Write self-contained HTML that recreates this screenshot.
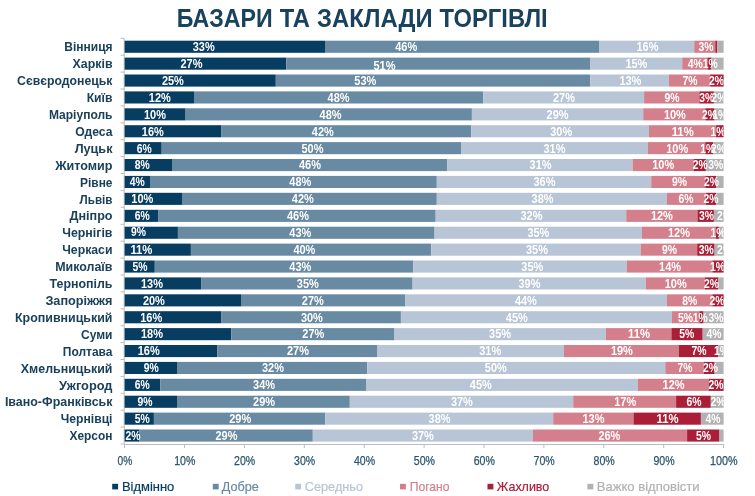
<!DOCTYPE html>
<html lang="uk"><head><meta charset="utf-8"><title>Базари та заклади торгівлі</title>
<style>
html,body{margin:0;padding:0;background:#fff;}
body{width:755px;height:496px;overflow:hidden;font-family:"Liberation Sans",sans-serif;}
svg{display:block;font-family:"Liberation Sans",sans-serif;}
.t{font-weight:bold;font-size:26px;fill:#19425e;}
.c{font-weight:bold;font-size:11.9px;fill:#1b405a;text-anchor:end;}
.v{font-weight:bold;font-size:12.0px;fill:#fff;text-anchor:middle;}
.a{font-size:12.4px;fill:#2a556f;stroke:#2a556f;stroke-width:0.25px;text-anchor:middle;}
.l{font-size:13.4px;stroke-width:0.2px;}
</style></head><body>
<svg width="755" height="496" viewBox="0 0 755 496">
<rect width="755" height="496" fill="#fff"/>
<defs><clipPath id="cp"><rect x="124.1" y="36" width="599.5" height="412"/></clipPath></defs>
<text class="t" y="27.2"><tspan x="176.8" textLength="95.9" lengthAdjust="spacingAndGlyphs">БАЗАРИ</tspan> <tspan x="279.7" textLength="30.2" lengthAdjust="spacingAndGlyphs">ТА</tspan> <tspan x="317.0" textLength="115.6" lengthAdjust="spacingAndGlyphs">ЗАКЛАДИ</tspan> <tspan x="439.6" textLength="108.1" lengthAdjust="spacingAndGlyphs">ТОРГІВЛІ</tspan></text>
<g stroke="#b9bdc3" stroke-width="1" fill="none">
<path d="M124.2 38.3V444.5"/>
<path d="M124.2 444.5H724.2"/>
<path d="M120.6 38.3H124.2"/>
<path d="M120.6 55.2H124.2"/>
<path d="M120.6 72.1H124.2"/>
<path d="M120.6 89.0H124.2"/>
<path d="M120.6 105.9H124.2"/>
<path d="M120.6 122.8H124.2"/>
<path d="M120.6 139.7H124.2"/>
<path d="M120.6 156.6H124.2"/>
<path d="M120.6 173.5H124.2"/>
<path d="M120.6 190.4H124.2"/>
<path d="M120.6 207.3H124.2"/>
<path d="M120.6 224.3H124.2"/>
<path d="M120.6 241.2H124.2"/>
<path d="M120.6 258.1H124.2"/>
<path d="M120.6 275.0H124.2"/>
<path d="M120.6 291.9H124.2"/>
<path d="M120.6 308.8H124.2"/>
<path d="M120.6 325.7H124.2"/>
<path d="M120.6 342.6H124.2"/>
<path d="M120.6 359.5H124.2"/>
<path d="M120.6 376.4H124.2"/>
<path d="M120.6 393.3H124.2"/>
<path d="M120.6 410.2H124.2"/>
<path d="M120.6 427.1H124.2"/>
<path d="M120.6 444.0H124.2"/>
<path d="M124.6 444.5V448.0"/>
<path d="M184.5 444.5V448.0"/>
<path d="M244.4 444.5V448.0"/>
<path d="M304.3 444.5V448.0"/>
<path d="M364.2 444.5V448.0"/>
<path d="M424.1 444.5V448.0"/>
<path d="M484.0 444.5V448.0"/>
<path d="M543.9 444.5V448.0"/>
<path d="M603.8 444.5V448.0"/>
<path d="M663.7 444.5V448.0"/>
<path d="M723.6 444.5V448.0"/>
</g>
<g>
<rect x="124.6" y="40.7" width="200.4" height="12.1" fill="#083d62"/>
<rect x="325.0" y="40.7" width="274.0" height="12.1" fill="#688aa3"/>
<rect x="599.0" y="40.7" width="95.2" height="12.1" fill="#b8c5d6"/>
<rect x="694.2" y="40.7" width="21.1" height="12.1" fill="#d4808c"/>
<rect x="715.3" y="40.7" width="1.9" height="12.1" fill="#aa1f37"/>
<rect x="717.2" y="40.7" width="6.4" height="12.1" fill="#b2b2b4"/>
<rect x="124.6" y="57.6" width="161.7" height="12.1" fill="#083d62"/>
<rect x="286.3" y="57.6" width="304.2" height="12.1" fill="#688aa3"/>
<rect x="590.5" y="57.6" width="91.7" height="12.1" fill="#b8c5d6"/>
<rect x="682.2" y="57.6" width="25.3" height="12.1" fill="#d4808c"/>
<rect x="707.5" y="57.6" width="4.0" height="12.1" fill="#aa1f37"/>
<rect x="711.5" y="57.6" width="12.1" height="12.1" fill="#b2b2b4"/>
<rect x="124.6" y="74.5" width="151.2" height="12.1" fill="#083d62"/>
<rect x="275.8" y="74.5" width="314.3" height="12.1" fill="#688aa3"/>
<rect x="590.1" y="74.5" width="78.7" height="12.1" fill="#b8c5d6"/>
<rect x="668.8" y="74.5" width="41.4" height="12.1" fill="#d4808c"/>
<rect x="710.2" y="74.5" width="13.4" height="12.1" fill="#aa1f37"/>
<rect x="124.6" y="91.4" width="69.4" height="12.1" fill="#083d62"/>
<rect x="194.0" y="91.4" width="289.3" height="12.1" fill="#688aa3"/>
<rect x="483.3" y="91.4" width="160.8" height="12.1" fill="#b8c5d6"/>
<rect x="644.1" y="91.4" width="55.3" height="12.1" fill="#d4808c"/>
<rect x="699.4" y="91.4" width="14.5" height="12.1" fill="#aa1f37"/>
<rect x="713.9" y="91.4" width="9.7" height="12.1" fill="#b2b2b4"/>
<rect x="124.6" y="108.3" width="61.0" height="12.1" fill="#083d62"/>
<rect x="185.6" y="108.3" width="286.3" height="12.1" fill="#688aa3"/>
<rect x="471.9" y="108.3" width="171.3" height="12.1" fill="#b8c5d6"/>
<rect x="643.2" y="108.3" width="62.1" height="12.1" fill="#d4808c"/>
<rect x="705.3" y="108.3" width="9.3" height="12.1" fill="#aa1f37"/>
<rect x="714.6" y="108.3" width="9.0" height="12.1" fill="#b2b2b4"/>
<rect x="124.6" y="125.2" width="96.9" height="12.1" fill="#083d62"/>
<rect x="221.5" y="125.2" width="249.8" height="12.1" fill="#688aa3"/>
<rect x="471.3" y="125.2" width="177.7" height="12.1" fill="#b8c5d6"/>
<rect x="649.0" y="125.2" width="67.1" height="12.1" fill="#d4808c"/>
<rect x="716.1" y="125.2" width="7.5" height="12.1" fill="#aa1f37"/>
<rect x="124.6" y="142.1" width="37.1" height="12.1" fill="#083d62"/>
<rect x="161.7" y="142.1" width="299.3" height="12.1" fill="#688aa3"/>
<rect x="461.0" y="142.1" width="186.9" height="12.1" fill="#b8c5d6"/>
<rect x="647.9" y="142.1" width="57.4" height="12.1" fill="#d4808c"/>
<rect x="705.3" y="142.1" width="8.0" height="12.1" fill="#aa1f37"/>
<rect x="713.3" y="142.1" width="10.3" height="12.1" fill="#b2b2b4"/>
<rect x="124.6" y="159.0" width="47.4" height="12.1" fill="#083d62"/>
<rect x="172.0" y="159.0" width="275.4" height="12.1" fill="#688aa3"/>
<rect x="447.4" y="159.0" width="185.2" height="12.1" fill="#b8c5d6"/>
<rect x="632.6" y="159.0" width="61.2" height="12.1" fill="#d4808c"/>
<rect x="693.8" y="159.0" width="12.1" height="12.1" fill="#aa1f37"/>
<rect x="705.9" y="159.0" width="17.7" height="12.1" fill="#b2b2b4"/>
<rect x="124.6" y="175.9" width="26.0" height="12.1" fill="#083d62"/>
<rect x="150.6" y="175.9" width="286.2" height="12.1" fill="#688aa3"/>
<rect x="436.8" y="175.9" width="214.4" height="12.1" fill="#b8c5d6"/>
<rect x="651.2" y="175.9" width="54.1" height="12.1" fill="#d4808c"/>
<rect x="705.3" y="175.9" width="10.8" height="12.1" fill="#aa1f37"/>
<rect x="716.1" y="175.9" width="7.5" height="12.1" fill="#b2b2b4"/>
<rect x="124.6" y="192.8" width="58.0" height="12.1" fill="#083d62"/>
<rect x="182.6" y="192.8" width="254.2" height="12.1" fill="#688aa3"/>
<rect x="436.8" y="192.8" width="230.2" height="12.1" fill="#b8c5d6"/>
<rect x="667.0" y="192.8" width="38.9" height="12.1" fill="#d4808c"/>
<rect x="705.9" y="192.8" width="10.2" height="12.1" fill="#aa1f37"/>
<rect x="716.1" y="192.8" width="7.5" height="12.1" fill="#b2b2b4"/>
<rect x="124.6" y="209.8" width="33.5" height="12.1" fill="#083d62"/>
<rect x="158.1" y="209.8" width="277.6" height="12.1" fill="#688aa3"/>
<rect x="435.7" y="209.8" width="190.5" height="12.1" fill="#b8c5d6"/>
<rect x="626.2" y="209.8" width="71.3" height="12.1" fill="#d4808c"/>
<rect x="697.5" y="209.8" width="16.4" height="12.1" fill="#aa1f37"/>
<rect x="713.9" y="209.8" width="9.7" height="12.1" fill="#b2b2b4"/>
<rect x="124.6" y="226.7" width="53.3" height="12.1" fill="#083d62"/>
<rect x="177.9" y="226.7" width="256.7" height="12.1" fill="#688aa3"/>
<rect x="434.6" y="226.7" width="207.3" height="12.1" fill="#b8c5d6"/>
<rect x="641.9" y="226.7" width="73.8" height="12.1" fill="#d4808c"/>
<rect x="715.7" y="226.7" width="3.2" height="12.1" fill="#aa1f37"/>
<rect x="718.9" y="226.7" width="4.7" height="12.1" fill="#b2b2b4"/>
<rect x="124.6" y="243.6" width="66.3" height="12.1" fill="#083d62"/>
<rect x="190.9" y="243.6" width="240.4" height="12.1" fill="#688aa3"/>
<rect x="431.3" y="243.6" width="209.3" height="12.1" fill="#b8c5d6"/>
<rect x="640.6" y="243.6" width="56.6" height="12.1" fill="#d4808c"/>
<rect x="697.2" y="243.6" width="17.4" height="12.1" fill="#aa1f37"/>
<rect x="714.6" y="243.6" width="9.0" height="12.1" fill="#b2b2b4"/>
<rect x="124.6" y="260.5" width="30.2" height="12.1" fill="#083d62"/>
<rect x="154.8" y="260.5" width="258.4" height="12.1" fill="#688aa3"/>
<rect x="413.2" y="260.5" width="213.6" height="12.1" fill="#b8c5d6"/>
<rect x="626.8" y="260.5" width="85.6" height="12.1" fill="#d4808c"/>
<rect x="712.4" y="260.5" width="11.2" height="12.1" fill="#aa1f37"/>
<rect x="124.6" y="277.4" width="76.9" height="12.1" fill="#083d62"/>
<rect x="201.5" y="277.4" width="211.1" height="12.1" fill="#688aa3"/>
<rect x="412.6" y="277.4" width="233.2" height="12.1" fill="#b8c5d6"/>
<rect x="645.8" y="277.4" width="59.2" height="12.1" fill="#d4808c"/>
<rect x="705.0" y="277.4" width="13.3" height="12.1" fill="#aa1f37"/>
<rect x="718.3" y="277.4" width="5.3" height="12.1" fill="#b2b2b4"/>
<rect x="124.6" y="294.3" width="116.4" height="12.1" fill="#083d62"/>
<rect x="241.0" y="294.3" width="164.4" height="12.1" fill="#688aa3"/>
<rect x="405.4" y="294.3" width="261.6" height="12.1" fill="#b8c5d6"/>
<rect x="667.0" y="294.3" width="45.4" height="12.1" fill="#d4808c"/>
<rect x="712.4" y="294.3" width="11.2" height="12.1" fill="#aa1f37"/>
<rect x="124.6" y="311.2" width="96.9" height="12.1" fill="#083d62"/>
<rect x="221.5" y="311.2" width="179.4" height="12.1" fill="#688aa3"/>
<rect x="400.9" y="311.2" width="271.1" height="12.1" fill="#b8c5d6"/>
<rect x="672.0" y="311.2" width="27.4" height="12.1" fill="#d4808c"/>
<rect x="699.4" y="311.2" width="4.1" height="12.1" fill="#aa1f37"/>
<rect x="703.5" y="311.2" width="20.1" height="12.1" fill="#b2b2b4"/>
<rect x="124.6" y="328.1" width="106.7" height="12.1" fill="#083d62"/>
<rect x="231.3" y="328.1" width="163.2" height="12.1" fill="#688aa3"/>
<rect x="394.5" y="328.1" width="211.3" height="12.1" fill="#b8c5d6"/>
<rect x="605.8" y="328.1" width="65.6" height="12.1" fill="#d4808c"/>
<rect x="671.4" y="328.1" width="31.3" height="12.1" fill="#aa1f37"/>
<rect x="702.7" y="328.1" width="20.9" height="12.1" fill="#b2b2b4"/>
<rect x="124.6" y="345.0" width="92.8" height="12.1" fill="#083d62"/>
<rect x="217.4" y="345.0" width="159.6" height="12.1" fill="#688aa3"/>
<rect x="377.0" y="345.0" width="187.0" height="12.1" fill="#b8c5d6"/>
<rect x="564.0" y="345.0" width="115.0" height="12.1" fill="#d4808c"/>
<rect x="679.0" y="345.0" width="39.3" height="12.1" fill="#aa1f37"/>
<rect x="718.3" y="345.0" width="5.3" height="12.1" fill="#b2b2b4"/>
<rect x="124.6" y="361.9" width="52.4" height="12.1" fill="#083d62"/>
<rect x="177.0" y="361.9" width="190.3" height="12.1" fill="#688aa3"/>
<rect x="367.3" y="361.9" width="298.0" height="12.1" fill="#b8c5d6"/>
<rect x="665.3" y="361.9" width="38.7" height="12.1" fill="#d4808c"/>
<rect x="704.0" y="361.9" width="10.6" height="12.1" fill="#aa1f37"/>
<rect x="714.6" y="361.9" width="9.0" height="12.1" fill="#b2b2b4"/>
<rect x="124.6" y="378.8" width="35.7" height="12.1" fill="#083d62"/>
<rect x="160.3" y="378.8" width="206.2" height="12.1" fill="#688aa3"/>
<rect x="366.5" y="378.8" width="271.4" height="12.1" fill="#b8c5d6"/>
<rect x="637.9" y="378.8" width="70.8" height="12.1" fill="#d4808c"/>
<rect x="708.7" y="378.8" width="14.9" height="12.1" fill="#aa1f37"/>
<rect x="124.6" y="395.7" width="52.4" height="12.1" fill="#083d62"/>
<rect x="177.0" y="395.7" width="172.8" height="12.1" fill="#688aa3"/>
<rect x="349.8" y="395.7" width="223.4" height="12.1" fill="#b8c5d6"/>
<rect x="573.2" y="395.7" width="102.9" height="12.1" fill="#d4808c"/>
<rect x="676.1" y="395.7" width="34.7" height="12.1" fill="#aa1f37"/>
<rect x="710.8" y="395.7" width="12.8" height="12.1" fill="#b2b2b4"/>
<rect x="124.6" y="412.6" width="29.3" height="12.1" fill="#083d62"/>
<rect x="153.9" y="412.6" width="171.3" height="12.1" fill="#688aa3"/>
<rect x="325.2" y="412.6" width="228.0" height="12.1" fill="#b8c5d6"/>
<rect x="553.2" y="412.6" width="80.3" height="12.1" fill="#d4808c"/>
<rect x="633.5" y="412.6" width="67.4" height="12.1" fill="#aa1f37"/>
<rect x="700.9" y="412.6" width="22.7" height="12.1" fill="#b2b2b4"/>
<rect x="124.6" y="429.5" width="14.9" height="12.1" fill="#083d62"/>
<rect x="139.5" y="429.5" width="173.3" height="12.1" fill="#688aa3"/>
<rect x="312.8" y="429.5" width="220.1" height="12.1" fill="#b8c5d6"/>
<rect x="532.9" y="429.5" width="154.2" height="12.1" fill="#d4808c"/>
<rect x="687.1" y="429.5" width="32.4" height="12.1" fill="#aa1f37"/>
<rect x="719.5" y="429.5" width="4.1" height="12.1" fill="#b2b2b4"/>
</g>
<text class="c" x="112.5" y="51.4" textLength="48.2" lengthAdjust="spacingAndGlyphs">Вінниця</text>
<text class="c" x="112.5" y="68.3" textLength="39.9" lengthAdjust="spacingAndGlyphs">Харків</text>
<text class="c" x="112.5" y="85.2" textLength="95.4" lengthAdjust="spacingAndGlyphs">Сєвєродонецьк</text>
<text class="c" x="112.5" y="102.1" textLength="25.8" lengthAdjust="spacingAndGlyphs">Київ</text>
<text class="c" x="112.5" y="119.0" textLength="63.6" lengthAdjust="spacingAndGlyphs">Маріуполь</text>
<text class="c" x="112.5" y="135.9" textLength="37.2" lengthAdjust="spacingAndGlyphs">Одеса</text>
<text class="c" x="112.5" y="152.8" textLength="37.8" lengthAdjust="spacingAndGlyphs">Луцьк</text>
<text class="c" x="112.5" y="169.7" textLength="57.3" lengthAdjust="spacingAndGlyphs">Житомир</text>
<text class="c" x="112.5" y="186.6" textLength="32.5" lengthAdjust="spacingAndGlyphs">Рівне</text>
<text class="c" x="112.5" y="203.5" textLength="32.9" lengthAdjust="spacingAndGlyphs">Львів</text>
<text class="c" x="112.5" y="220.4" textLength="43.0" lengthAdjust="spacingAndGlyphs">Дніпро</text>
<text class="c" x="112.5" y="237.3" textLength="50.3" lengthAdjust="spacingAndGlyphs">Чернігів</text>
<text class="c" x="112.5" y="254.2" textLength="50.3" lengthAdjust="spacingAndGlyphs">Черкаси</text>
<text class="c" x="112.5" y="271.1" textLength="57.3" lengthAdjust="spacingAndGlyphs">Миколаїв</text>
<text class="c" x="112.5" y="288.0" textLength="62.9" lengthAdjust="spacingAndGlyphs">Тернопіль</text>
<text class="c" x="112.5" y="304.9" textLength="67.1" lengthAdjust="spacingAndGlyphs">Запоріжжя</text>
<text class="c" x="112.5" y="321.8" textLength="97.5" lengthAdjust="spacingAndGlyphs">Кропивницький</text>
<text class="c" x="112.5" y="338.7" textLength="31.5" lengthAdjust="spacingAndGlyphs">Суми</text>
<text class="c" x="112.5" y="355.6" textLength="49.7" lengthAdjust="spacingAndGlyphs">Полтава</text>
<text class="c" x="112.5" y="372.5" textLength="91.7" lengthAdjust="spacingAndGlyphs">Хмельницький</text>
<text class="c" x="112.5" y="389.5" textLength="53.5" lengthAdjust="spacingAndGlyphs">Ужгород</text>
<text class="c" x="112.5" y="406.4" textLength="107.6" lengthAdjust="spacingAndGlyphs">Івано-Франківськ</text>
<text class="c" x="112.5" y="423.3" textLength="51.8" lengthAdjust="spacingAndGlyphs">Чернівці</text>
<text class="c" x="112.5" y="440.2" textLength="43.0" lengthAdjust="spacingAndGlyphs">Херсон</text>
<g clip-path="url(#cp)">
<text class="v" x="203.7" y="51.0" textLength="22.0" lengthAdjust="spacingAndGlyphs">33%</text>
<text class="v" x="406.2" y="51.0" textLength="22.0" lengthAdjust="spacingAndGlyphs">46%</text>
<text class="v" x="647.5" y="51.0" textLength="22.0" lengthAdjust="spacingAndGlyphs">16%</text>
<text class="v" x="705.9" y="51.0" textLength="15.0" lengthAdjust="spacingAndGlyphs">3%</text>
<text class="v" x="191.5" y="68.0" textLength="22.0" lengthAdjust="spacingAndGlyphs">27%</text>
<text class="v" x="384.5" y="69.5" textLength="22.0" lengthAdjust="spacingAndGlyphs">51%</text>
<text class="v" x="636.4" y="68.0" textLength="22.0" lengthAdjust="spacingAndGlyphs">15%</text>
<text class="v" x="695.3" y="68.0" textLength="15.0" lengthAdjust="spacingAndGlyphs">4%</text>
<text class="v" x="710.2" y="68.0" textLength="15.0" lengthAdjust="spacingAndGlyphs">1%</text>
<text class="v" x="172.9" y="84.9" textLength="22.0" lengthAdjust="spacingAndGlyphs">25%</text>
<text class="v" x="365.3" y="84.9" textLength="22.0" lengthAdjust="spacingAndGlyphs">53%</text>
<text class="v" x="630.4" y="84.9" textLength="22.0" lengthAdjust="spacingAndGlyphs">13%</text>
<text class="v" x="690.1" y="84.9" textLength="15.0" lengthAdjust="spacingAndGlyphs">7%</text>
<text class="v" x="716.5" y="84.9" textLength="15.0" lengthAdjust="spacingAndGlyphs">2%</text>
<text class="v" x="159.8" y="101.8" textLength="22.0" lengthAdjust="spacingAndGlyphs">12%</text>
<text class="v" x="338.6" y="101.8" textLength="22.0" lengthAdjust="spacingAndGlyphs">48%</text>
<text class="v" x="564.0" y="101.8" textLength="22.0" lengthAdjust="spacingAndGlyphs">27%</text>
<text class="v" x="672.1" y="101.8" textLength="15.0" lengthAdjust="spacingAndGlyphs">9%</text>
<text class="v" x="706.8" y="101.8" textLength="15.0" lengthAdjust="spacingAndGlyphs">3%</text>
<text class="v" x="718.9" y="101.8" textLength="15.0" lengthAdjust="spacingAndGlyphs">2%</text>
<text class="v" x="155.0" y="118.7" textLength="22.0" lengthAdjust="spacingAndGlyphs">10%</text>
<text class="v" x="330.6" y="118.7" textLength="22.0" lengthAdjust="spacingAndGlyphs">48%</text>
<text class="v" x="557.6" y="118.7" textLength="22.0" lengthAdjust="spacingAndGlyphs">29%</text>
<text class="v" x="674.9" y="118.7" textLength="22.0" lengthAdjust="spacingAndGlyphs">10%</text>
<text class="v" x="709.6" y="118.7" textLength="15.0" lengthAdjust="spacingAndGlyphs">2%</text>
<text class="v" x="719.8" y="118.7" textLength="15.0" lengthAdjust="spacingAndGlyphs">1%</text>
<text class="v" x="152.8" y="135.6" textLength="22.0" lengthAdjust="spacingAndGlyphs">16%</text>
<text class="v" x="322.8" y="135.6" textLength="22.0" lengthAdjust="spacingAndGlyphs">42%</text>
<text class="v" x="561.2" y="135.6" textLength="22.0" lengthAdjust="spacingAndGlyphs">30%</text>
<text class="v" x="682.7" y="135.6" textLength="22.0" lengthAdjust="spacingAndGlyphs">11%</text>
<text class="v" x="717.9" y="135.6" textLength="15.0" lengthAdjust="spacingAndGlyphs">1%</text>
<text class="v" x="144.2" y="152.5" textLength="15.0" lengthAdjust="spacingAndGlyphs">6%</text>
<text class="v" x="312.5" y="152.5" textLength="22.0" lengthAdjust="spacingAndGlyphs">50%</text>
<text class="v" x="554.5" y="152.5" textLength="22.0" lengthAdjust="spacingAndGlyphs">31%</text>
<text class="v" x="677.2" y="152.5" textLength="22.0" lengthAdjust="spacingAndGlyphs">10%</text>
<text class="v" x="707.7" y="152.5" textLength="15.0" lengthAdjust="spacingAndGlyphs">1%</text>
<text class="v" x="718.5" y="152.5" textLength="15.0" lengthAdjust="spacingAndGlyphs">2%</text>
<text class="v" x="142.3" y="169.4" textLength="15.0" lengthAdjust="spacingAndGlyphs">8%</text>
<text class="v" x="310.0" y="169.4" textLength="22.0" lengthAdjust="spacingAndGlyphs">46%</text>
<text class="v" x="540.6" y="169.4" textLength="22.0" lengthAdjust="spacingAndGlyphs">31%</text>
<text class="v" x="663.2" y="169.4" textLength="22.0" lengthAdjust="spacingAndGlyphs">10%</text>
<text class="v" x="700.3" y="169.4" textLength="15.0" lengthAdjust="spacingAndGlyphs">2%</text>
<text class="v" x="715.7" y="169.4" textLength="15.0" lengthAdjust="spacingAndGlyphs">3%</text>
<text class="v" x="137.2" y="186.3" textLength="15.0" lengthAdjust="spacingAndGlyphs">4%</text>
<text class="v" x="300.3" y="186.3" textLength="22.0" lengthAdjust="spacingAndGlyphs">48%</text>
<text class="v" x="544.5" y="186.3" textLength="22.0" lengthAdjust="spacingAndGlyphs">36%</text>
<text class="v" x="679.4" y="186.3" textLength="15.0" lengthAdjust="spacingAndGlyphs">9%</text>
<text class="v" x="711.5" y="186.3" textLength="15.0" lengthAdjust="spacingAndGlyphs">2%</text>
<text class="v" x="142.3" y="203.2" textLength="22.0" lengthAdjust="spacingAndGlyphs">10%</text>
<text class="v" x="302.8" y="203.2" textLength="22.0" lengthAdjust="spacingAndGlyphs">42%</text>
<text class="v" x="542.6" y="203.2" textLength="22.0" lengthAdjust="spacingAndGlyphs">38%</text>
<text class="v" x="686.0" y="203.2" textLength="15.0" lengthAdjust="spacingAndGlyphs">6%</text>
<text class="v" x="710.9" y="203.2" textLength="15.0" lengthAdjust="spacingAndGlyphs">2%</text>
<text class="v" x="142.3" y="220.1" textLength="15.0" lengthAdjust="spacingAndGlyphs">6%</text>
<text class="v" x="298.0" y="220.1" textLength="22.0" lengthAdjust="spacingAndGlyphs">46%</text>
<text class="v" x="531.5" y="220.1" textLength="22.0" lengthAdjust="spacingAndGlyphs">32%</text>
<text class="v" x="661.9" y="220.1" textLength="22.0" lengthAdjust="spacingAndGlyphs">12%</text>
<text class="v" x="706.4" y="220.1" textLength="15.0" lengthAdjust="spacingAndGlyphs">3%</text>
<text class="v" x="724.5" y="220.1" textLength="15.0" lengthAdjust="spacingAndGlyphs">2%</text>
<text class="v" x="138.6" y="236.0" textLength="15.0" lengthAdjust="spacingAndGlyphs">9%</text>
<text class="v" x="300.3" y="237.0" textLength="22.0" lengthAdjust="spacingAndGlyphs">43%</text>
<text class="v" x="538.4" y="237.0" textLength="22.0" lengthAdjust="spacingAndGlyphs">35%</text>
<text class="v" x="679.0" y="237.0" textLength="22.0" lengthAdjust="spacingAndGlyphs">12%</text>
<text class="v" x="717.9" y="237.0" textLength="15.0" lengthAdjust="spacingAndGlyphs">1%</text>
<text class="v" x="141.4" y="253.9" textLength="22.0" lengthAdjust="spacingAndGlyphs">11%</text>
<text class="v" x="304.4" y="253.9" textLength="22.0" lengthAdjust="spacingAndGlyphs">40%</text>
<text class="v" x="537.0" y="253.9" textLength="22.0" lengthAdjust="spacingAndGlyphs">35%</text>
<text class="v" x="669.4" y="253.9" textLength="15.0" lengthAdjust="spacingAndGlyphs">9%</text>
<text class="v" x="706.3" y="253.9" textLength="15.0" lengthAdjust="spacingAndGlyphs">3%</text>
<text class="v" x="724.5" y="253.9" textLength="15.0" lengthAdjust="spacingAndGlyphs">2%</text>
<text class="v" x="140.0" y="270.8" textLength="15.0" lengthAdjust="spacingAndGlyphs">5%</text>
<text class="v" x="300.3" y="270.8" textLength="22.0" lengthAdjust="spacingAndGlyphs">43%</text>
<text class="v" x="532.3" y="270.8" textLength="22.0" lengthAdjust="spacingAndGlyphs">35%</text>
<text class="v" x="670.1" y="270.8" textLength="22.0" lengthAdjust="spacingAndGlyphs">14%</text>
<text class="v" x="717.6" y="270.8" textLength="15.0" lengthAdjust="spacingAndGlyphs">1%</text>
<text class="v" x="152.0" y="287.7" textLength="22.0" lengthAdjust="spacingAndGlyphs">13%</text>
<text class="v" x="307.8" y="287.7" textLength="22.0" lengthAdjust="spacingAndGlyphs">35%</text>
<text class="v" x="529.5" y="287.7" textLength="22.0" lengthAdjust="spacingAndGlyphs">39%</text>
<text class="v" x="675.7" y="287.7" textLength="22.0" lengthAdjust="spacingAndGlyphs">10%</text>
<text class="v" x="711.5" y="287.7" textLength="15.0" lengthAdjust="spacingAndGlyphs">2%</text>
<text class="v" x="153.9" y="304.6" textLength="22.0" lengthAdjust="spacingAndGlyphs">20%</text>
<text class="v" x="312.8" y="304.6" textLength="22.0" lengthAdjust="spacingAndGlyphs">27%</text>
<text class="v" x="525.9" y="304.6" textLength="22.0" lengthAdjust="spacingAndGlyphs">44%</text>
<text class="v" x="689.8" y="304.6" textLength="15.0" lengthAdjust="spacingAndGlyphs">8%</text>
<text class="v" x="717.0" y="304.6" textLength="15.0" lengthAdjust="spacingAndGlyphs">2%</text>
<text class="v" x="151.2" y="321.5" textLength="22.0" lengthAdjust="spacingAndGlyphs">16%</text>
<text class="v" x="311.9" y="321.5" textLength="22.0" lengthAdjust="spacingAndGlyphs">30%</text>
<text class="v" x="516.8" y="321.5" textLength="22.0" lengthAdjust="spacingAndGlyphs">45%</text>
<text class="v" x="685.5" y="321.5" textLength="15.0" lengthAdjust="spacingAndGlyphs">5%</text>
<text class="v" x="700.3" y="321.5" textLength="15.0" lengthAdjust="spacingAndGlyphs">1%</text>
<text class="v" x="716.1" y="321.5" textLength="15.0" lengthAdjust="spacingAndGlyphs">3%</text>
<text class="v" x="152.0" y="338.4" textLength="22.0" lengthAdjust="spacingAndGlyphs">18%</text>
<text class="v" x="313.3" y="338.4" textLength="22.0" lengthAdjust="spacingAndGlyphs">27%</text>
<text class="v" x="500.1" y="338.4" textLength="22.0" lengthAdjust="spacingAndGlyphs">35%</text>
<text class="v" x="639.1" y="338.4" textLength="22.0" lengthAdjust="spacingAndGlyphs">11%</text>
<text class="v" x="686.8" y="338.4" textLength="15.0" lengthAdjust="spacingAndGlyphs">5%</text>
<text class="v" x="713.9" y="338.4" textLength="15.0" lengthAdjust="spacingAndGlyphs">4%</text>
<text class="v" x="148.7" y="355.3" textLength="22.0" lengthAdjust="spacingAndGlyphs">16%</text>
<text class="v" x="298.0" y="355.3" textLength="22.0" lengthAdjust="spacingAndGlyphs">27%</text>
<text class="v" x="490.2" y="355.3" textLength="22.0" lengthAdjust="spacingAndGlyphs">31%</text>
<text class="v" x="621.9" y="355.3" textLength="22.0" lengthAdjust="spacingAndGlyphs">19%</text>
<text class="v" x="699.0" y="355.3" textLength="15.0" lengthAdjust="spacingAndGlyphs">7%</text>
<text class="v" x="721.6" y="355.3" textLength="15.0" lengthAdjust="spacingAndGlyphs">1%</text>
<text class="v" x="151.2" y="372.2" textLength="15.0" lengthAdjust="spacingAndGlyphs">9%</text>
<text class="v" x="273.0" y="372.2" textLength="22.0" lengthAdjust="spacingAndGlyphs">32%</text>
<text class="v" x="495.8" y="372.2" textLength="22.0" lengthAdjust="spacingAndGlyphs">50%</text>
<text class="v" x="684.9" y="372.2" textLength="15.0" lengthAdjust="spacingAndGlyphs">7%</text>
<text class="v" x="710.5" y="372.2" textLength="15.0" lengthAdjust="spacingAndGlyphs">2%</text>
<text class="v" x="142.3" y="389.2" textLength="15.0" lengthAdjust="spacingAndGlyphs">6%</text>
<text class="v" x="264.1" y="389.2" textLength="22.0" lengthAdjust="spacingAndGlyphs">34%</text>
<text class="v" x="480.8" y="389.2" textLength="22.0" lengthAdjust="spacingAndGlyphs">45%</text>
<text class="v" x="673.6" y="389.2" textLength="22.0" lengthAdjust="spacingAndGlyphs">12%</text>
<text class="v" x="716.1" y="389.2" textLength="15.0" lengthAdjust="spacingAndGlyphs">2%</text>
<text class="v" x="145.0" y="406.1" textLength="15.0" lengthAdjust="spacingAndGlyphs">9%</text>
<text class="v" x="264.1" y="406.1" textLength="22.0" lengthAdjust="spacingAndGlyphs">29%</text>
<text class="v" x="461.9" y="406.1" textLength="22.0" lengthAdjust="spacingAndGlyphs">37%</text>
<text class="v" x="625.2" y="406.1" textLength="22.0" lengthAdjust="spacingAndGlyphs">17%</text>
<text class="v" x="694.0" y="406.1" textLength="15.0" lengthAdjust="spacingAndGlyphs">6%</text>
<text class="v" x="718.1" y="406.1" textLength="15.0" lengthAdjust="spacingAndGlyphs">2%</text>
<text class="v" x="142.3" y="423.0" textLength="15.0" lengthAdjust="spacingAndGlyphs">5%</text>
<text class="v" x="240.2" y="423.0" textLength="22.0" lengthAdjust="spacingAndGlyphs">29%</text>
<text class="v" x="439.6" y="423.0" textLength="22.0" lengthAdjust="spacingAndGlyphs">38%</text>
<text class="v" x="593.5" y="423.0" textLength="22.0" lengthAdjust="spacingAndGlyphs">13%</text>
<text class="v" x="667.6" y="423.0" textLength="22.0" lengthAdjust="spacingAndGlyphs">11%</text>
<text class="v" x="713.1" y="423.0" textLength="15.0" lengthAdjust="spacingAndGlyphs">4%</text>
<text class="v" x="133.0" y="439.9" textLength="15.0" lengthAdjust="spacingAndGlyphs">2%</text>
<text class="v" x="226.5" y="439.9" textLength="22.0" lengthAdjust="spacingAndGlyphs">29%</text>
<text class="v" x="422.9" y="439.9" textLength="22.0" lengthAdjust="spacingAndGlyphs">37%</text>
<text class="v" x="609.4" y="439.9" textLength="22.0" lengthAdjust="spacingAndGlyphs">26%</text>
<text class="v" x="703.6" y="439.9" textLength="15.0" lengthAdjust="spacingAndGlyphs">5%</text>
</g>
<text class="a" x="124.9" y="464.9" textLength="14.8" lengthAdjust="spacingAndGlyphs">0%</text>
<text class="a" x="184.8" y="464.9" textLength="21.2" lengthAdjust="spacingAndGlyphs">10%</text>
<text class="a" x="244.7" y="464.9" textLength="21.2" lengthAdjust="spacingAndGlyphs">20%</text>
<text class="a" x="304.6" y="464.9" textLength="21.2" lengthAdjust="spacingAndGlyphs">30%</text>
<text class="a" x="364.5" y="464.9" textLength="21.2" lengthAdjust="spacingAndGlyphs">40%</text>
<text class="a" x="424.4" y="464.9" textLength="21.2" lengthAdjust="spacingAndGlyphs">50%</text>
<text class="a" x="484.3" y="464.9" textLength="21.2" lengthAdjust="spacingAndGlyphs">60%</text>
<text class="a" x="544.2" y="464.9" textLength="21.2" lengthAdjust="spacingAndGlyphs">70%</text>
<text class="a" x="604.1" y="464.9" textLength="21.2" lengthAdjust="spacingAndGlyphs">80%</text>
<text class="a" x="664.0" y="464.9" textLength="21.2" lengthAdjust="spacingAndGlyphs">90%</text>
<text class="a" x="723.9" y="464.9" textLength="27.6" lengthAdjust="spacingAndGlyphs">100%</text>
<rect x="112.2" y="483.8" width="5.9" height="5.6" fill="#083d62"/>
<text class="l" x="121.9" y="490.8" fill="#083d62" stroke="#083d62" textLength="52.4" lengthAdjust="spacingAndGlyphs">Відмінно</text>
<rect x="212.8" y="483.8" width="5.9" height="5.6" fill="#688aa3"/>
<text class="l" x="221.8" y="490.8" fill="#688aa3" stroke="#688aa3" textLength="37.0" lengthAdjust="spacingAndGlyphs">Добре</text>
<rect x="295.2" y="483.8" width="5.9" height="5.6" fill="#b8c5d6"/>
<text class="l" x="304.8" y="490.8" fill="#b8c5d6" stroke="#b8c5d6" textLength="58.2" lengthAdjust="spacingAndGlyphs">Середньо</text>
<rect x="400.0" y="483.8" width="5.9" height="5.6" fill="#d4808c"/>
<text class="l" x="409.7" y="490.8" fill="#d4808c" stroke="#d4808c" textLength="39.9" lengthAdjust="spacingAndGlyphs">Погано</text>
<rect x="487.5" y="483.8" width="5.9" height="5.6" fill="#aa1f37"/>
<text class="l" x="496.8" y="490.8" fill="#aa1f37" stroke="#aa1f37" textLength="52.5" lengthAdjust="spacingAndGlyphs">Жахливо</text>
<rect x="587.4" y="483.8" width="5.9" height="5.6" fill="#b2b2b4"/>
<text class="l" x="596.8" y="490.8" fill="#b2b2b4" stroke="#b2b2b4" textLength="102.8" lengthAdjust="spacingAndGlyphs">Важко відповісти</text>
</svg></body></html>
